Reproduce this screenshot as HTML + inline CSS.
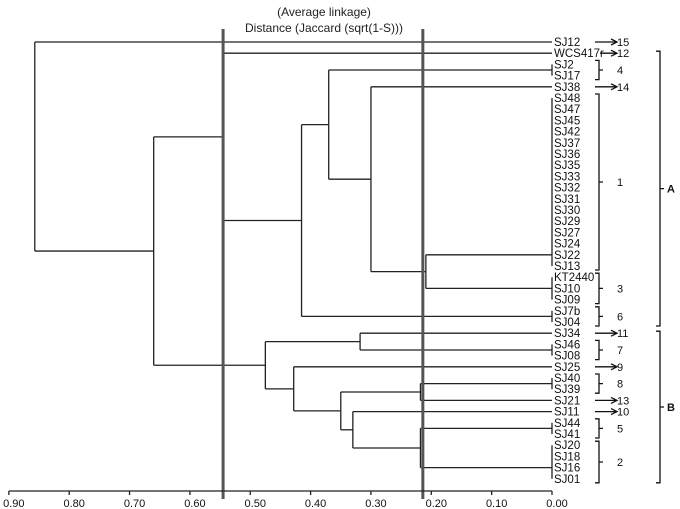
<!DOCTYPE html>
<html><head><meta charset="utf-8"><style>
html,body{margin:0;padding:0;background:#fff;}
svg{display:block;font-family:"Liberation Sans",Arial,sans-serif;}
</style></head><body>
<svg id="chart" width="680" height="509" viewBox="0 0 680 509">
<text x="324" y="16" font-size="12" text-anchor="middle" fill="#222">(Average linkage)</text>
<text x="324" y="32" font-size="12" text-anchor="middle" fill="#222">Distance (Jaccard (sqrt(1-S)))</text>
<g id="tree"></g>
<g id="axis"></g>
<g id="annot" font-size="11" fill="#111" stroke="#111"></g>
</svg>
<script>
const leafNames=["SJ12","WCS417r","SJ2","SJ17","SJ38","SJ48","SJ47","SJ45","SJ42","SJ37","SJ36","SJ35","SJ33","SJ32","SJ31","SJ30","SJ29","SJ27","SJ24","SJ22","SJ13","KT2440","SJ10","SJ09","SJ7b","SJ04","SJ34","SJ46","SJ08","SJ25","SJ40","SJ39","SJ21","SJ11","SJ44","SJ41","SJ20","SJ18","SJ16","SJ01"];
// internal nodes: ids 100+i
const nodeChildren=[[2,3],[5,6,7,8,9,10,11,12,13,14,15,16,17,18,19,20],[21,22,23],[24,25],[27,28],[30,31],[34,35],[36,37,38,39],[101,102],[4,108],[100,109],[110,103],[1,111],[105,32],[106,107],[33,114],[113,115],[29,116],[26,104],[118,117],[112,119],[0,120]];
const nodeHeights=[0,0,0,0,0,0,0,0,0.209,0.30,0.37,0.415,0.545,0.218,0.218,0.33,0.35,0.428,0.318,0.475,0.66,0.857];
const nodeAnchor=[null,19,null,null,null,null,null,38,null,null,null,null,null,null,null,null,null,null,null,null,null,null];
const tickValues=[0.90,0.80,0.70,0.60,0.50,0.40,0.30,0.20,0.10,0.00];
const cutLines=[0.545,0.214];

const NS="http://www.w3.org/2000/svg";
const X=d=>552-d*603.5;
const Y=i=>42+i*11.2;
function mk(tag,attrs,parent){const e=document.createElementNS(NS,tag);for(const k in attrs)e.setAttribute(k,attrs[k]);parent.appendChild(e);return e;}
const tree=document.getElementById('tree');
function ny(id){if(id<100)return Y(id);const i=id-100;const c=nodeChildren[i];
  if(nodeAnchor[i]!==null)return Y(nodeAnchor[i]);
  return (ny(c[0])+ny(c[c.length-1]))/2;}
function nx(id){return id<100?X(0):X(nodeHeights[id-100]);}
nodeChildren.forEach((c,i)=>{
  const x=X(nodeHeights[i]);
  const ys=c.map(ny);
  const v=mk('line',{x1:x,x2:x,y1:Math.min(...ys),y2:Math.max(...ys),stroke:'#222','stroke-width':1.3},tree);
  
  
  c.forEach(ch=>{
    if(ch<100)return;
    const h=mk('line',{x1:x,x2:nx(ch),y1:ny(ch),y2:ny(ch),stroke:'#222','stroke-width':1.3},tree);
    
    
  });
});
nodeChildren.forEach((c,i)=>{c.forEach(ch=>{if(ch<100&&nodeHeights[i]>0){
  const h=mk('line',{x1:X(nodeHeights[i]),x2:X(0),y1:Y(ch),y2:Y(ch),stroke:'#222','stroke-width':1.3},tree);
  
  
}})});
leafNames.forEach((n,i)=>{
  const t=mk('text',{x:554,y:Y(i)+4,'font-size':11.5,fill:'#111'},tree);
  t.textContent=n;
  
  
});
cutLines.forEach((d,i)=>{
  const l=mk('line',{x1:X(d),x2:X(d),y1:29,y2:499,stroke:'#555','stroke-width':3},tree);
  
  
});
const axis=document.getElementById('axis');
const al=mk('line',{x1:X(0.9),x2:X(0),y1:491,y2:491,stroke:'#222','stroke-width':1.3},axis);


tickValues.forEach(v=>{
  const tk=mk('line',{x1:X(v),x2:X(v),y1:491,y2:495,stroke:'#222','stroke-width':1.3},axis);
  
  
  const t=mk('text',{x:X(v)+5,y:507,'font-size':11,'text-anchor':'middle',fill:'#111'},axis);
  t.textContent=v.toFixed(2);
  
  
});
const an=document.getElementById('annot');
const arrows=[[0,"15"],[1,"12"],[4,"14"],[26,"11"],[29,"9"],[32,"13"],[33,"10"]];
arrows.forEach(([i,lab])=>{
  const y=Y(i);const x0=i==1?600:595;
  const p=mk('path',{d:`M${x0} ${y}H617M611 ${y-3}L617 ${y}L611 ${y+3}`,fill:'none','stroke-width':1.3},an);
  
  
  const t=mk('text',{x:617,y:y+4,stroke:'none'},an);t.textContent=lab;
  
  
});
const brackets=[[2,3,"4"],[5,20,"1"],[21,23,"3"],[24,25,"6"],[27,28,"7"],[30,31,"8"],[34,35,"5"],[36,39,"2"]];
brackets.forEach(([a,b,lab])=>{
  const y1=Y(a)-4,y2=Y(b)+4,m=(y1+y2)/2;
  const p=mk('path',{d:`M595 ${y1}H599V${y2}H595M599 ${m}H603`,fill:'none','stroke-width':1.3},an);
  
  
  const t=mk('text',{x:617,y:m+4,stroke:'none'},an);t.textContent=lab;
  
  
});
const big=[[1,25,"A"],[26,39,"B"]];
big.forEach(([a,b,lab])=>{
  const y1=Y(a)-2,y2=Y(b)+4,m=(y1+y2)/2;
  const p=mk('path',{d:`M656 ${y1}H660V${y2}H656M660 ${m}H664`,fill:'none','stroke-width':1.3},an);
  
  
  const t=mk('text',{x:667,y:m+4,stroke:'none','font-weight':'bold'},an);t.textContent=lab;
  
  
});
</script>
</body></html>
